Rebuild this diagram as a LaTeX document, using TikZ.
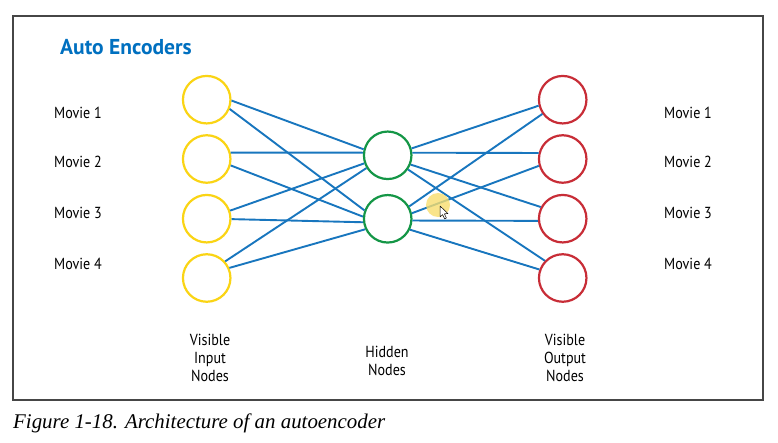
\documentclass[tikz,border=0pt]{standalone}
\usepackage{fontspec}
\setmainfont{Liberation Serif}
\newfontfamily\labelfont[FakeStretch=0.88]{PT Sans}
\newfontfamily\headfont{PT Sans}
\definecolor{linkblue}{RGB}{24,118,190}
\definecolor{titleblue}{RGB}{0,112,192}
\definecolor{inyellow}{RGB}{250,212,20}
\definecolor{hidgreen}{RGB}{20,150,70}
\definecolor{outred}{RGB}{200,45,55}
\definecolor{framegray}{RGB}{70,70,70}
\definecolor{hilite}{RGB}{248,222,110}
\begin{document}
\begin{tikzpicture}[x=1pt,y=-1pt,
  unit/.style={circle,draw,line width=2.2pt,fill=white,minimum size=47.5pt,inner sep=0pt},
  inunit/.style={unit,draw=inyellow},
  hidunit/.style={unit,draw=hidgreen},
  outunit/.style={unit,draw=outred},
  link/.style={draw=linkblue,line width=1.9pt},
  movie/.style={font=\labelfont\fontsize{16}{18}\selectfont,anchor=center},
  layername/.style={font=\labelfont\fontsize{16}{18}\selectfont,align=center,anchor=center}]
\useasboundingbox (0,0) rectangle (778,443);
\fill[white] (0,0) rectangle (778,443);
\draw[framegray,line width=1.1pt] (13,16) rectangle (763,400);

\node[font=\headfont\bfseries\fontsize{21.5}{24}\selectfont,text=titleblue,anchor=west,inner sep=0pt] (title) at (60,47) {Auto Encoders};

% layers
\node[inunit] (in1) at (206.7,99.7) {};
\node[inunit] (in2) at (206.7,159) {};
\node[inunit] (in3) at (206.7,218.7) {};
\node[inunit] (in4) at (206.7,278) {};
\node[hidunit] (h1) at (387.7,155.3) {};
\node[hidunit] (h2) at (387.7,218.8) {};
\node[outunit] (o1) at (562.7,99.7) {};
\node[outunit] (o2) at (562.7,159) {};
\node[outunit] (o3) at (562.7,218.7) {};
\node[outunit] (o4) at (562.7,278) {};

% encoder weights
\draw[link] (in1.-2) -- (h1.166);
\draw[link] (in1.-22) -- (h2.160);
\draw[link] (in2.15) -- (h1.174);
\draw[link] (in2.-15) -- (h2.175);
\draw[link] (in3.19) -- (h1.199);
\draw[link] (in3.-1) -- (h2.188);
\draw[link] (in4.42) -- (h1.211);
\draw[link] (in4.24) -- (h2.205);
% decoder weights
\draw[link] (h1.16) -- (o1.194);
\draw[link] (h1.6) -- (o2.166);
\draw[link] (h1.-22) -- (o3.152);
\draw[link] (h1.-35) -- (o4.136);
\draw[link] (h2.30) -- (o1.215);
\draw[link] (h2.13) -- (o2.196);
\draw[link] (h2.-4) -- (o3.185);
\draw[link] (h2.-26) -- (o4.160);

% movie labels
\node[movie] (lm1) at (78,113) {Movie 1};
\node[movie] (lm2) at (78,162) {Movie 2};
\node[movie] (lm3) at (78,213) {Movie 3};
\node[movie] (lm4) at (78,264) {Movie 4};
\node[movie] (rm1) at (688,113) {Movie 1};
\node[movie] (rm2) at (688,162) {Movie 2};
\node[movie] (rm3) at (688,213) {Movie 3};
\node[movie] (rm4) at (688,264) {Movie 4};

% layer names
\node[layername] (lin) at (210,358) {Visible\\Input\\Nodes};
\node[layername] (lhid) at (387,361) {Hidden\\Nodes};
\node[layername] (lout) at (565,358) {Visible\\Output\\Nodes};

% pointer highlight
\fill[hilite,opacity=0.8] (438,205) circle (12);
\draw[black,fill=white,line width=0.5pt,line join=round]
  (440,206) -- (440,217) -- (442.6,214.6) -- (444.6,218.8) -- (446.4,218) -- (444.4,213.8) -- (448,213.6) -- cycle;

% caption
\node[font=\itshape\fontsize{20.9}{23}\selectfont,anchor=base west,inner sep=0pt] (cap) at (13,428) {Figure 1-18. Architecture of an autoencoder};
\end{tikzpicture}
\end{document}
